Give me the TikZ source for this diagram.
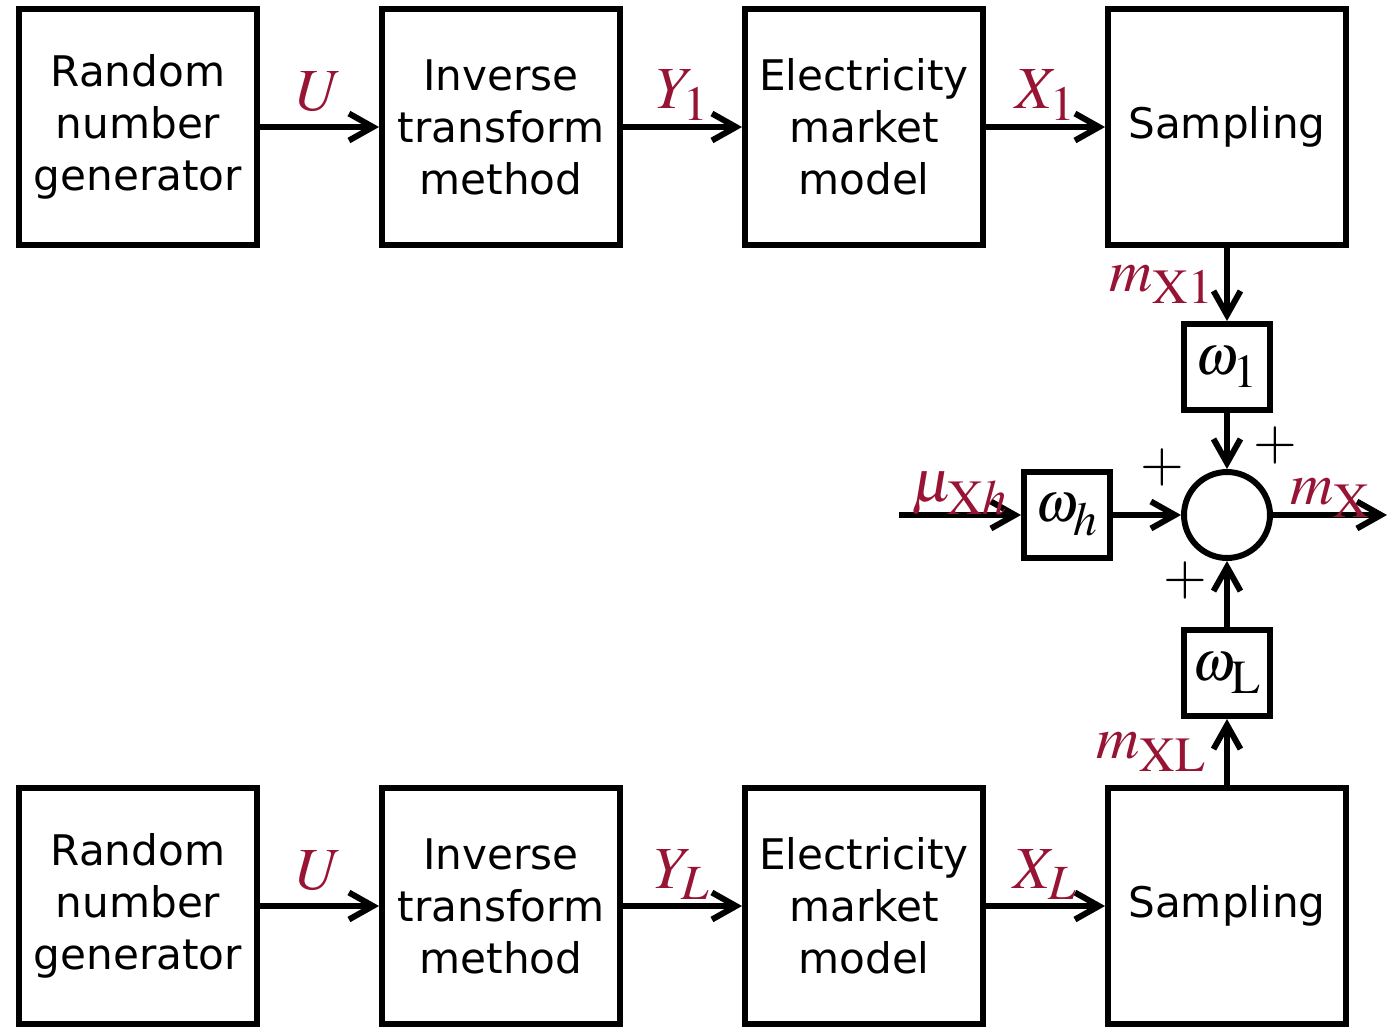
\documentclass[tikz,border=0pt]{standalone}
\usepackage{mathptmx}
\usepackage[no-math]{fontspec}
\setmainfont{DejaVu Sans}
\usetikzlibrary{arrows.meta,positioning,calc}
\definecolor{labelred}{RGB}{152,20,52}
\DeclareMathSizes{34}{34}{28}{22}
\DeclareMathSizes{32}{32}{27}{21}

\begin{document}
\begin{tikzpicture}[x=0.02cm, y=-0.02cm,
  blk/.style={draw=black, line width=3.4pt, minimum width=4.76cm, minimum height=4.72cm,
    align=center, inner sep=2pt, font=\fontsize{24}{29.6}\selectfont},
  gain/.style={draw=black, line width=3.4pt, minimum size=1.72cm, inner sep=0pt,
    font=\fontsize{32}{38}\selectfont},
  sumpt/.style={circle, draw=black, line width=3.4pt, minimum size=1.72cm, inner sep=0pt},
  arrow/.style={-{Straight Barb[length=4.8mm,width=5.4mm]}, line width=3.4pt},
  sig/.style={text=labelred, font=\fontsize{34}{40}\selectfont, inner sep=1pt},
  sgn/.style={font=\fontsize{32}{38}\selectfont, inner sep=0pt}
]
\useasboundingbox (0,0) rectangle (1387,1029);

% first chain
\node[blk] (rng1) at (138,127) {Random\\number\\generator};
\node[blk] (itm1) at (501,127) {Inverse\\transform\\method};
\node[blk] (emm1) at (864,127) {Electricity\\market\\model};
\node[blk] (smp1) at (1227,127) {Sampling};

% last chain
\node[blk] (rngL) at (138,906) {Random\\number\\generator};
\node[blk] (itmL) at (501,906) {Inverse\\transform\\method};
\node[blk] (emmL) at (864,906) {Electricity\\market\\model};
\node[blk] (smpL) at (1227,906) {Sampling};

% weights and sum
\node[gain] (w1) at (1227,367) {$\omega_1$};
\node[sumpt] (sum) at (1227,515) {};
\node[gain] (wh) at (1067,515) {$\omega_h$};
\node[gain] (wL) at (1227,673) {$\omega_{\mathrm{L}}$};
\coordinate (muin) at (899,515);
\coordinate (mxout) at (1387,515);

\node[sgn] (p1) at (1275,445) {$+$};
\node[sgn] (ph) at (1162,467) {$+$};
\node[sgn] (pL) at (1185,580) {$+$};

\draw[arrow] (rng1) -- node[sig, above=6pt] (u1) {$U$} (itm1);
\draw[arrow] (itm1) -- node[sig, above=1pt] (y1) {$Y_1$} (emm1);
\draw[arrow] (emm1) -- node[sig, above=1pt] (x1) {$X_1$} (smp1);
\draw[arrow] (rngL) -- node[sig, above=6pt] (uL) {$U$} (itmL);
\draw[arrow] (itmL) -- node[sig, above=1pt] (yL) {$Y_L$} (emmL);
\draw[arrow] (emmL) -- node[sig, above=1pt] (xL) {$X_L$} (smpL);

\draw[arrow] (smp1) -- node[sig, left=5pt] (mx1) {$m_{\mathrm{X}1}$} (w1);
\draw[arrow] (smpL) -- node[sig, left=9pt] (mxL) {$m_{\mathrm{XL}}$} (wL);
\draw[arrow] (w1) -- (sum);
\draw[arrow] (wL) -- (sum);
\draw[arrow] (muin) -- node[sig, above=-3pt] (mu) {$\mu_{\mathrm{X}h}$} (wh);
\draw[arrow] (wh) -- (sum);
\draw[arrow] (sum) -- node[sig, above=-4pt] (mx) {$m_{\mathrm{X}}$} (mxout);
\end{tikzpicture}
\end{document}
